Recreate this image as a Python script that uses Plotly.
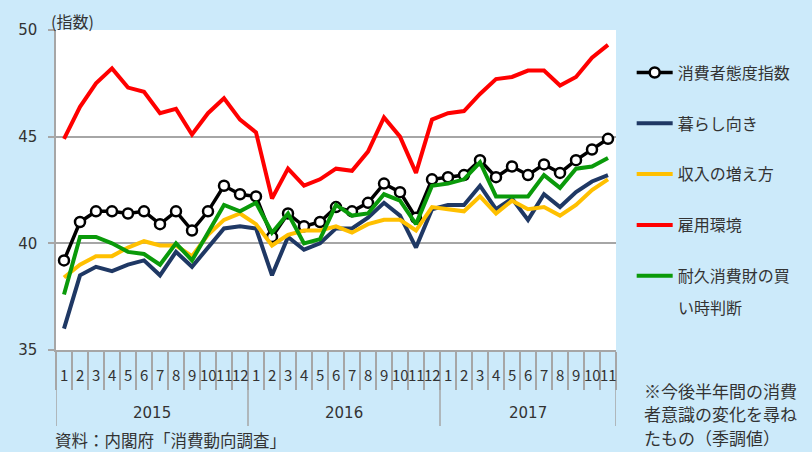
import plotly.graph_objects as go

# ---- data ----
years = ["2015", "2016", "2017"]
months = [str(m) for m in range(1, 13)] + [str(m) for m in range(1, 13)] + [str(m) for m in range(1, 12)]

series_names = ["消費者態度指数", "暮らし向き", "収入の増え方", "雇用環境", "耐久消費財の買"]
legend_wrap = "い時判断"  # second line of the last legend entry

cci = [39.2, 41.0, 41.5, 41.5, 41.4, 41.5, 40.9, 41.5, 40.6, 41.5, 42.7, 42.3,
       42.2, 40.3, 41.4, 40.8, 41.0, 41.7, 41.5, 41.9, 42.8, 42.4, 41.2, 43.0,
       43.1, 43.2, 43.9, 43.1, 43.6, 43.2, 43.7, 43.3, 43.9, 44.4, 44.9]
living = [36.0, 38.5, 38.9, 38.7, 39.0, 39.2, 38.5, 39.6, 38.9, 39.8, 40.7, 40.8,
          40.7, 38.5, 40.3, 39.7, 40.0, 40.7, 40.7, 41.2, 41.9, 41.3, 39.8, 41.6,
          41.8, 41.8, 42.7, 41.6, 42.1, 41.1, 42.3, 41.7, 42.4, 42.9, 43.2]
income = [38.4, 39.0, 39.4, 39.4, 39.8, 40.1, 39.9, 39.9, 39.4, 40.4, 41.1, 41.4,
          40.9, 39.9, 40.4, 40.6, 40.6, 40.8, 40.5, 40.9, 41.1, 41.1, 40.6, 41.7,
          41.6, 41.5, 42.2, 41.4, 42.0, 41.6, 41.7, 41.3, 41.8, 42.5, 43.0]
employment = [44.9, 46.4, 47.5, 48.2, 47.3, 47.1, 46.1, 46.3, 45.1, 46.1, 46.8, 45.8,
              45.2, 42.1, 43.5, 42.7, 43.0, 43.5, 43.4, 44.3, 45.9, 45.0, 43.3, 45.8,
              46.1, 46.2, 47.0, 47.7, 47.8, 48.1, 48.1, 47.4, 47.8, 48.7, 49.3]
durables = [37.6, 40.3, 40.3, 40.0, 39.6, 39.5, 39.0, 40.0, 39.2, 40.5, 41.8, 41.5,
            41.9, 40.5, 41.4, 40.0, 40.2, 41.8, 41.3, 41.4, 42.3, 42.0, 40.9, 42.7,
            42.8, 43.0, 43.8, 42.2, 42.2, 42.2, 43.2, 42.6, 43.5, 43.6, 44.0]

y_ticks = [35, 40, 45, 50]

note_lines = ["※今後半年間の消費", "者意識の変化を尋ね", "たもの（季調値）"]
source_text = "資料：内閣府「消費動向調査」"
unit_text = "(指数)"

# ---- figure ----
n = len(months)
xs = list(range(1, n + 1))
JP = "Noto Sans CJK JP"
NUM = "DejaVu Sans"
TXT = "#333333"
GRID = "#a6a6a6"
BG = "#cceafa"

colors = ["#000000", "#1f3864", "#ffc000", "#ff0000", "#0a9a0a"]
data = [cci, living, income, employment, durables]

fig = go.Figure()
for i, (name, vals, col) in enumerate(zip(series_names, data, colors)):
    if i == 0:
        fig.add_trace(go.Scatter(
            x=xs, y=vals, name=name, mode="lines+markers", legendgroup=str(i),
            line=dict(color=col, width=3.5),
            marker=dict(symbol="circle", size=10, color="white",
                        line=dict(color=col, width=2.5)),
        ))
    else:
        fig.add_trace(go.Scatter(
            x=xs, y=vals, name=name, mode="lines", legendgroup=str(i),
            line=dict(color=col, width=4),
        ))

# month labels
for x, m in zip(xs, months):
    fig.add_annotation(x=x, y=-0.078, xref="x", yref="paper", text=m,
                       showarrow=False, font=dict(family=JP, size=15, color=TXT),
                       xanchor="center", yanchor="middle")

# year group dividers and labels
group_sizes = [12, 12, 11]
bounds = [0.5]
for gsz in group_sizes:
    bounds.append(bounds[-1] + gsz)
for b in bounds:
    fig.add_shape(type="line", xref="x", yref="paper", x0=b, x1=b, y0=0, y1=-0.2375,
                  line=dict(color=GRID, width=1.5))
for yr, a, b in zip(years, bounds[:-1], bounds[1:]):
    fig.add_annotation(x=(a + b) / 2, y=-0.197, xref="x", yref="paper", text=yr,
                       showarrow=False, font=dict(family=NUM, size=15, color=TXT),
                       xanchor="center", yanchor="middle")

# axis title, source, note, legend wrap line
fig.add_annotation(x=-0.012, y=1.027, xref="paper", yref="paper", text=unit_text,
                   showarrow=False, font=dict(family=JP, size=16, color=TXT),
                   xanchor="left", yanchor="middle")
fig.add_annotation(x=-0.006, y=-0.28, xref="paper", yref="paper",
                   text=source_text, showarrow=False,
                   font=dict(family=JP, size=16.5, color=TXT), xanchor="left", yanchor="middle")
for k, line in enumerate(note_lines):
    fig.add_annotation(x=1.046, y=-0.125 - 0.0735 * k, xref="paper", yref="paper",
                       text=line, showarrow=False, align="left",
                       font=dict(family=JP, size=17, color=TXT),
                       xanchor="left", yanchor="middle")
fig.add_annotation(x=1.107, y=(350 - 307) / 320, xref="paper", yref="paper",
                   text=legend_wrap, showarrow=False,
                   font=dict(family=JP, size=16, color=TXT), xanchor="left", yanchor="middle")

fig.update_layout(
    width=812, height=452,
    margin=dict(l=56, r=196, t=30, b=102, autoexpand=False),
    paper_bgcolor=BG, plot_bgcolor="#ffffff",
    showlegend=True,
    legend=dict(x=1.028, y=0.92, xanchor="left", yanchor="top",
                bgcolor="rgba(0,0,0,0)", font=dict(family=JP, size=16, color=TXT),
                tracegroupgap=27, itemwidth=36, valign="top", traceorder="grouped"),
    xaxis=dict(range=[0.5, n + 0.5], tickmode="array",
               tickvals=[0.5 + k for k in range(n + 1)],
               ticktext=["" for _ in range(n + 1)],
               ticks="outside", ticklen=38, tickcolor=GRID, tickwidth=1.5,
               showgrid=False, zeroline=False, showline=True, linecolor=GRID, linewidth=1.5),
    yaxis=dict(range=[35, 50], tickmode="array", tickvals=y_ticks,
               ticks="outside", ticklen=6, tickcolor=GRID, tickwidth=1.5,
               showgrid=True, gridcolor=GRID, gridwidth=1.5,
               zeroline=False, showline=True, linecolor=GRID, linewidth=1.5,
               tickfont=dict(family=NUM, size=15, color=TXT), ticklabelstandoff=8),
)

fig.write_html("out.html", config={"displayModeBar": False},
               post_script="document.body.style.margin='0';document.body.style.background='%s';" % BG)
